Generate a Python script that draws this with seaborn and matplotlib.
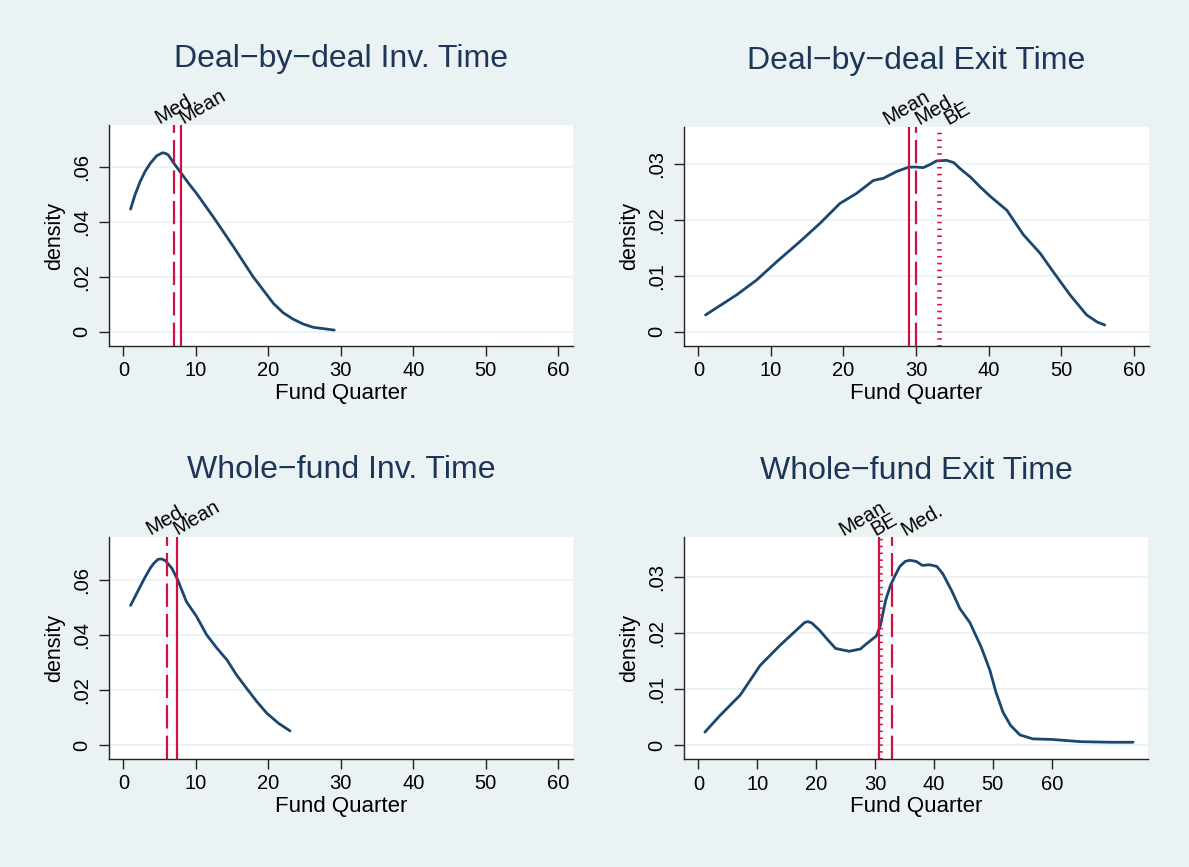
import matplotlib
matplotlib.use('Agg')
import matplotlib.pyplot as plt
import matplotlib.transforms as mtransforms
import pandas as pd
import seaborn as sns

# --- data --------------------------------------------------------------
# Deal-by-deal investment time (kernel density)
dbd_inv_q = [1.0, 1.6, 2.3, 3.0, 3.7, 4.6, 5.4, 5.9, 6.2, 7.0, 8.0, 9.0, 10.1, 12.4, 15.2,
             17.9, 20.7, 22.0, 23.4, 24.8, 26.2, 29.1]
dbd_inv_d = [0.0446, 0.0497, 0.0545, 0.0583, 0.0612, 0.0640, 0.0651, 0.0648, 0.0643,
             0.0612, 0.0576, 0.0540, 0.0503, 0.0418, 0.0309, 0.0200, 0.0103, 0.0070,
             0.0046, 0.0028, 0.0016, 0.0006]

# Deal-by-deal exit time
dbd_exit_q = [1.0, 5.3, 8.0, 10.8, 14.0, 16.8, 19.5, 21.8, 24.1, 25.5, 27.3, 29.0, 30.0,
              31.0, 32.0, 32.8, 34.2, 35.2, 36.0, 37.5, 38.8, 40.2, 42.5, 44.8, 47.1,
              48.9, 51.2, 53.5, 55.0, 56.0]
dbd_exit_d = [0.0030, 0.0066, 0.0092, 0.0125, 0.0161, 0.0194, 0.0229, 0.0247, 0.0270,
              0.0274, 0.0286, 0.0294, 0.0294, 0.0293, 0.0299, 0.0305, 0.0306, 0.0302,
              0.0292, 0.0276, 0.0259, 0.0242, 0.0217, 0.0173, 0.0140, 0.0107, 0.0066,
              0.0030, 0.0017, 0.0012]

# Whole-fund investment time
wf_inv_q = [1.0, 2.8, 3.7, 4.2, 4.8, 5.3, 5.8, 6.7, 7.5, 8.7, 10.1, 11.5, 12.9, 14.3,
            15.6, 17.0, 18.4, 19.8, 21.4, 23.0]
wf_inv_d = [0.0507, 0.0600, 0.0642, 0.0660, 0.0675, 0.0676, 0.0670, 0.0642, 0.0600,
            0.0521, 0.0467, 0.0400, 0.0352, 0.0309, 0.0255, 0.0206, 0.0158, 0.0115,
            0.0079, 0.0051]

# Whole-fund exit time
wf_exit_q = [1.1, 3.7, 7.1, 10.5, 13.9, 17.3, 18.0, 18.6, 19.3, 20.6, 22.0, 23.3, 25.6,
             27.5, 28.5, 30.2, 30.9, 31.8, 32.6, 33.4, 34.2, 35.1, 35.9, 37.0, 38.0,
             39.3, 40.5, 41.5, 43.0, 44.4, 46.1, 48.0, 49.5, 50.5, 51.7, 53.0, 54.6,
             56.8, 60.0, 65.0, 70.0, 73.8]
wf_exit_d = [0.0023, 0.0053, 0.0089, 0.0142, 0.0178, 0.0211, 0.0218, 0.0220, 0.0217,
             0.0204, 0.0187, 0.0172, 0.0167, 0.0171, 0.0180, 0.0194, 0.0213, 0.0258,
             0.0284, 0.0302, 0.0318, 0.0327, 0.0329, 0.0327, 0.0320, 0.0321, 0.0318,
             0.0305, 0.0275, 0.0243, 0.0218, 0.0175, 0.0133, 0.0095, 0.0059, 0.0035,
             0.0018, 0.0011, 0.0010, 0.0006, 0.0005, 0.0005]

# reference lines (mean / median / break-even)
dbd_inv_lines = {'Med.': 7.0, 'Mean': 8.0}
dbd_exit_lines = {'Mean': 29.0, 'Med.': 30.0, 'BE': 33.2}
wf_inv_lines = {'Med.': 6.0, 'Mean': 7.4}
wf_exit_lines = {'Mean': 30.7, 'BE': 30.9, 'Med.': 32.9}

titles = ['Deal\u2212by\u2212deal Inv. Time', 'Deal\u2212by\u2212deal Exit Time',
          'Whole\u2212fund Inv. Time', 'Whole\u2212fund Exit Time']
x_ticks = [0, 10, 20, 30, 40, 50, 60]
y_ticks_inv = [0, 0.02, 0.04, 0.06]
y_labels_inv = ['0', '.02', '.04', '.06']
y_ticks_exit = [0, 0.01, 0.02, 0.03]
y_labels_exit = ['0', '.01', '.02', '.03']

# --- style ---------------------------------------------------------------
sns.set_theme(style='white')
plt.rcParams['font.family'] = ['Liberation Sans', 'DejaVu Sans']

BG = '#eaf2f3'
NAVY = '#1a476f'
RED = '#cf1242'
TITLE_C = '#1d3557'

styles = {
    'Mean': dict(lw=1.6, ls='-'),
    'Med.': dict(lw=1.6, ls=(0, (10.5, 3.2))),
    'BE': dict(lw=3.4, ls=(0, (0.32, 1.13))),
}

fig = plt.figure(figsize=(11.89, 8.67), dpi=100, facecolor=BG)

panels = [
    # rect, title, x, y, lines, xlim, ylim, yticks, ylabels, label anchors
    ([0.0917, 0.6009, 0.3901, 0.2549], titles[0], dbd_inv_q, dbd_inv_d, dbd_inv_lines,
     (-1.97, 62.0), (-0.0052, 0.0752), y_ticks_inv, y_labels_inv,
     {'Med.': 5.0, 'Mean': 8.3}),
    ([0.5753, 0.6009, 0.3911, 0.2529], titles[1], dbd_exit_q, dbd_exit_d, dbd_exit_lines,
     (-1.97, 62.1), (-0.00255, 0.0366), y_ticks_exit, y_labels_exit,
     {'Mean': 26.0, 'Med.': 30.5, 'BE': 34.4}),
    ([0.0917, 0.1249, 0.3901, 0.2561], titles[2], wf_inv_q, wf_inv_d, wf_inv_lines,
     (-1.97, 62.0), (-0.0050, 0.0757), y_ticks_inv, y_labels_inv,
     {'Med.': 3.8, 'Mean': 7.4}),
    ([0.5753, 0.1242, 0.3905, 0.2561], titles[3], wf_exit_q, wf_exit_d, wf_exit_lines,
     (-2.44, 76.4), (-0.00254, 0.0370), y_ticks_exit, y_labels_exit,
     {'Mean': 24.7, 'BE': 30.0, 'Med.': 35.1}),
]

for rect, title, xs, ys, lines, xlim, ylim, yt, yl, anchors in panels:
    ax = fig.add_axes(rect)
    ax.set_facecolor('white')
    ax.set_axisbelow(True)
    ax.yaxis.grid(True, color=BG, lw=1.3)
    ax.xaxis.grid(False)

    df = pd.DataFrame({'quarter': xs, 'density': ys})
    sns.lineplot(data=df, x='quarter', y='density', ax=ax, color=NAVY, lw=2.0,
                 estimator=None)

    trans = mtransforms.blended_transform_factory(ax.transData, ax.transAxes)
    for name, val in lines.items():
        ax.axvline(val, color=RED, zorder=3, **styles[name])
        ax.text(anchors[name], 1.006, name, transform=trans, rotation=30,
                rotation_mode='anchor', ha='left', va='baseline', fontsize=14.5,
                color='black')

    ax.set_xlim(*xlim)
    ax.set_ylim(*ylim)
    ax.set_xticks(x_ticks)
    ax.set_xticklabels([str(t) for t in x_ticks])
    ax.set_yticks(yt)
    ax.set_yticklabels(yl, rotation=90, va='center')

    for s in ['top', 'right']:
        ax.spines[s].set_visible(False)
    for s in ['left', 'bottom']:
        ax.spines[s].set_color('#222222')
        ax.spines[s].set_linewidth(1.0)

    ax.tick_params(axis='both', direction='out', length=7, width=1, color='#222222',
                   labelsize=14.5, labelcolor='black', left=True, bottom=True)
    ax.tick_params(axis='x', pad=4)
    ax.tick_params(axis='y', pad=6)
    ax.set_xlabel('Fund Quarter', fontsize=16, color='black', labelpad=2)
    ax.set_ylabel('density', fontsize=15.5, color='black', labelpad=5)

    ax.text(0.5, 1.30, title, transform=ax.transAxes, ha='center', va='center',
            fontsize=23, color=TITLE_C)

fig.savefig('out.png', dpi=100, facecolor=BG)
